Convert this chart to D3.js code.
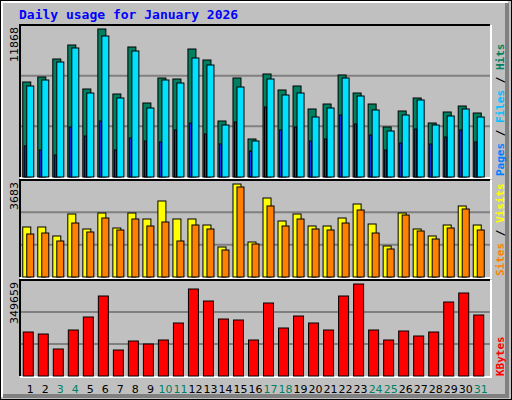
<!DOCTYPE html>
<html><head><meta charset="utf-8">
<script src="https://cdn.jsdelivr.net/npm/d3@7"></script>
<style>body{margin:0;background:#fff}</style>
</head><body><div id="plot"></div>
<script>
// Daily figures.
var days = d3.range(1, 32);
var weekends = [3, 4, 10, 11, 17, 18, 24, 25, 31];
var hits = [7618,8019,9462,10585,7057,11868,6656,10425,5934,7939,7859,10264,9382,4491,7939,3047,8260,6977,7297,5453,5854,8179,6736,5854,4010,5293,6335,4330,5212,5693,5132];
var files = [7297,7778,9222,10345,6736,11307,6335,10104,5533,7778,7538,9543,8981,4170,7217,2887,7859,6576,6736,4811,5533,7939,6495,5373,3689,4972,6175,4170,4892,5453,4811];
var pages = [2486,2165,1764,4010,3288,4491,2165,3127,2887,2807,3769,4330,3448,2646,4410,2085,5613,3769,4010,2887,3047,4972,4250,3368,2165,2727,3849,2646,3208,3769,2807];
var visits = [1980,1980,1624,2495,1901,2534,1940,2534,2297,3010,2297,2297,2059,1188,3683,1386,3128,2218,2495,2020,2020,2336,2891,2099,1228,2534,1901,1624,2059,2812,2059];
var sites = [1703,1742,1426,2138,1782,2336,1861,2297,2020,2178,1426,2059,1901,1069,3564,1307,2812,2020,2297,1901,1861,2138,2653,1742,1109,2455,1822,1505,1940,2693,1861];
var kbytes = [167226,159625,102616,174828,224235,304048,98816,133021,121619,136822,201432,330652,285045,216634,212834,136822,277444,182429,228036,201432,174828,304048,349659,174828,136822,171027,152024,167226,281244,315450,231837];

var W = 512, H = 400, font = "'DejaVu Sans Mono', monospace";
var svg = d3.select("#plot").append("svg").attr("width", W).attr("height", H);

// 3D frame
svg.append("rect").attr("width", W).attr("height", H).attr("fill", "#c0c0c0");
svg.append("rect").attr("x", 0.5).attr("y", 0.5).attr("width", W - 1).attr("height", H - 1).attr("fill", "none").attr("stroke", "#000");
svg.append("path").attr("d", "M2,397V2H508").attr("fill", "none").attr("stroke", "#fff").attr("stroke-width", 2);
svg.append("path").attr("d", "M3,396H507V3").attr("fill", "none").attr("stroke", "#808080").attr("stroke-width", 4);

svg.append("text").attr("x", 19).attr("y", 19).text("Daily usage for January 2026")
	.attr("fill", "#0000ff").style("font-family", font).style("font-weight", "bold").style("font-size", "13px");

var x = d3.scaleBand().domain(days).range([20, 490]).paddingOuter(0.15);
var off = x.step() / 2 - 7.5;

function panel(top, bottom, max, label) {
	svg.append("rect").attr("x", 20).attr("y", top).attr("width", 470).attr("height", bottom - top).attr("fill", "#c0c0c0");
	var y = d3.scaleLinear().domain([0, max]).range([bottom, top + 4]);
	var g3 = (bottom - top) / 3;
	[1, 2].forEach(function(i) {
		svg.append("line").attr("x1", 20).attr("x2", 490).attr("y1", top + g3 * i).attr("y2", top + g3 * i).attr("stroke", "#808080").attr("stroke-width", 2);
	});
	svg.append("path").attr("d", "M20," + bottom + "V" + top + "H490").attr("fill", "none").attr("stroke", "#000").attr("stroke-width", 2);
	svg.append("path").attr("d", "M20," + (bottom + 1) + "H491V" + top).attr("fill", "none").attr("stroke", "#fff").attr("stroke-width", 2);
	svg.append("text").attr("transform", "translate(18," + (top + 2) + ") rotate(-90)").attr("text-anchor", "end")
		.text(label).style("font-family", "'DejaVu Sans', sans-serif").style("font-size", "11px").attr("fill", "#000");
	return y;
}

function bars(y, vals, dx, w, color) {
	svg.append("g").selectAll("rect").data(vals).enter().append("rect")
		.attr("x", function(d, i) { return x(days[i]) + off + dx; })
		.attr("y", function(d) { return y(d); })
		.attr("width", w)
		.attr("height", function(d) { return y(0) - y(d); })
		.attr("fill", color).attr("stroke", "#000").attr("stroke-width", 1);
}

var y1 = panel(25, 177, 11868, "11868");
bars(y1, hits, 0.5, 8, "#008060");
bars(y1, files, 4.5, 7, "#00e0ff");
bars(y1, pages, 2, 2, "#0040ff");

var y2 = panel(180, 277, 3683, "3683");
bars(y2, visits, 0.5, 8, "#ffff00");
bars(y2, sites, 4.5, 7, "#ff8000");

var y3 = panel(280, 376, 349659, "349659");
bars(y3, kbytes, 1, 10, "#ff0000");

// day labels
svg.append("g").selectAll("text").data(days).enter().append("text")
	.attr("x", function(d) { return x(d) + off + 8; })
	.attr("y", 393).attr("text-anchor", "middle")
	.text(function(d) { return d; })
	.attr("fill", function(d) { return weekends.indexOf(d) >= 0 ? "#008060" : "#000"; })
	.style("font-family", "'DejaVu Sans', sans-serif").style("font-size", "11px");

// right-side legends
function legend(yEnd, parts) {
	var t = svg.append("text").attr("transform", "translate(504," + yEnd + ") rotate(-90)")
		.style("font-family", font).style("font-size", "11px").style("font-weight", "bold");
	parts.forEach(function(p) { t.append("tspan").text(p[0]).attr("fill", p[1]); });
}
legend(176, [["Pages", "#0080ff"], [" / ", "#000"], ["Files", "#00c0ff"], [" / ", "#000"], ["Hits", "#008060"]]);
legend(276, [["Sites", "#ff8000"], [" / ", "#000"], ["Visits", "#ffff00"]]);
legend(376, [["KBytes", "#ff0000"]]);
</script>
</body></html>
